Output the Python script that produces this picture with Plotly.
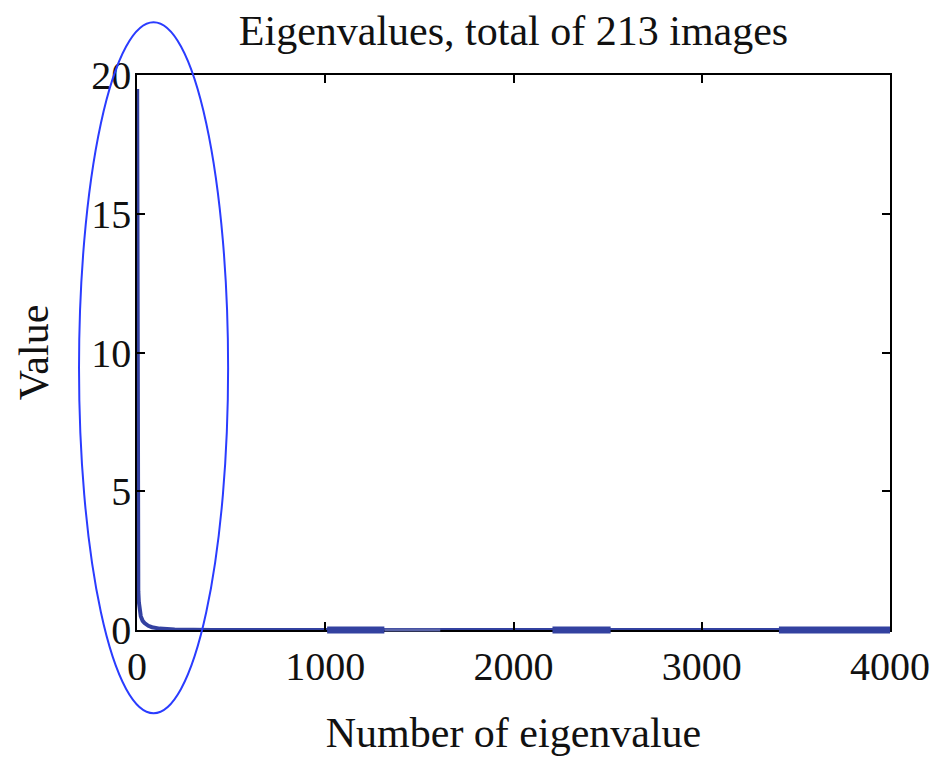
import plotly.graph_objects as go

# Eigenvalue spectrum (index -> value)
eig_index = [1, 2, 3, 4, 5, 7, 10, 15, 20, 30, 40, 60, 80, 120, 150, 200, 300, 400, 1000, 2000, 3000, 4000]
eig_value = [19.5, 7.5, 3.4, 2.4, 1.9, 1.4, 1.0, 0.7, 0.5, 0.33, 0.25, 0.15, 0.1, 0.05, 0.03, 0.015, 0.008, 0.0, 0.0, 0.0, 0.0, 0.0]

# Thick blocks drawn on the zero line
band_start = [1010, 2207, 3410]
band_end = [1314, 2516, 4020]
grey_start = [1314]
grey_end = [1611]

line_blue = "#3341a0"
serif = "Liberation Serif"
plot_h = 555  # px height of the plotting area

fig = go.Figure()

fig.add_trace(go.Scatter(x=eig_index, y=eig_value, mode="lines",
                         line=dict(color=line_blue, width=4), showlegend=False))

# blocks sit across the x axis line, so draw them as shapes (not clipped in y)
for a, b in zip(grey_start, grey_end):
    fig.add_shape(type="rect", xref="x", yref="paper", x0=a, x1=b,
                  y0=-1.5 / plot_h, y1=1.5 / plot_h,
                  fillcolor="#5a64a8", line=dict(width=0))
for a, b in zip(band_start, band_end):
    fig.add_shape(type="rect", xref="x", yref="paper", x0=a, x1=b,
                  y0=-3.5 / plot_h, y1=3.5 / plot_h,
                  fillcolor=line_blue, line=dict(width=0))

# hand-drawn ellipse around the steep part
fig.add_shape(type="circle", xref="paper", yref="paper",
              x0=-0.077, x1=0.121, y0=-0.150, y1=1.095,
              line=dict(color="#2a3cff", width=2))

axis_style = dict(showline=True, linecolor="black", linewidth=1.5, mirror="ticks",
                  ticks="inside", ticklen=8, tickcolor="black", tickwidth=1.5,
                  showgrid=False, zeroline=False, automargin=False,
                  tickfont=dict(family=serif, size=40, color="#111"))

fig.update_xaxes(range=[0, 4000], tickvals=[0, 1000, 2000, 3000, 4000],
                 title=dict(text="Number of eigenvalue", font=dict(family=serif, size=42, color="#111"), standoff=30),
                 **axis_style)
fig.update_yaxes(range=[0, 20], tickvals=[0, 5, 10, 15, 20], ticklabelstandoff=-4,
                 title=dict(text="Value", font=dict(family=serif, size=42, color="#111"), standoff=30),
                 **axis_style)

fig.update_layout(
    width=933, height=757,
    margin=dict(l=137, r=43, t=75, b=127),
    paper_bgcolor="white", plot_bgcolor="white",
    title=dict(text="Eigenvalues, total of 213 images", x=0.5, xanchor="center", xref="paper",
               y=0.960, yanchor="middle",
               font=dict(family=serif, size=42, color="#111")),
)

# drop the page's default body margin so the figure fills the window exactly
fig.write_html("out.html", config={"displayModeBar": False},
               post_script="document.body.style.margin='0';")
